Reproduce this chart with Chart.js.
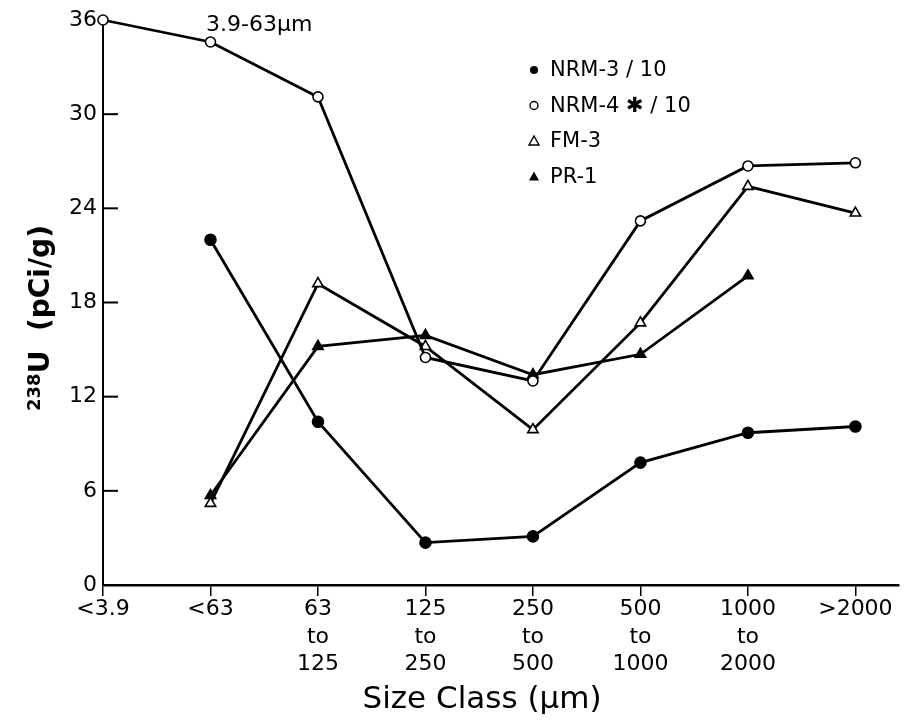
<!DOCTYPE html>
<html>
<head>
<meta charset="utf-8">
<script src="https://cdn.jsdelivr.net/npm/chart.js@4/dist/chart.umd.min.js"></script>
<style>
  html, body { margin: 0; padding: 0; background: #fff; }
  #wrap { width: 906px; height: 723px; }
</style>
</head>
<body>
<div id="wrap"><canvas id="uChart" width="906" height="723"></canvas></div>
<script>
// size classes along the bottom, one line of text per row
const sizeClasses = ['<3.9', '<63', '63 to 125', '125 to 250', '250 to 500', '500 to 1000', '1000 to 2000', '>2000'];
const tickLabels = [['<3.9'], ['<63'], ['63', 'to', '125'], ['125', 'to', '250'], ['250', 'to', '500'],
  ['500', 'to', '1000'], ['1000', 'to', '2000'], ['>2000']];
const yTicks = [0, 6, 12, 18, 24, 30, 36];

// 238U, pCi/g
const nrm3 = [null, 22.0, 10.4, 2.7, 3.1, 7.8, 9.7, 10.1];
const nrm4 = [36.0, 34.6, 31.1, 14.5, 13.0, 23.2, 26.7, 26.9];
const fm3 = [null, 5.2, 19.2, 15.2, 9.9, 16.7, 25.4, 23.7];
const pr1 = [null, 5.7, 15.2, 15.9, 13.4, 14.7, 19.7, null];

const FONT = '"DejaVu Sans", sans-serif';

const toPts = arr => arr.map((v, i) => ({ x: i, y: v }));

const series = (label, arr, style, filled, r) => ({
  label,
  data: toPts(arr),
  borderColor: '#000',
  borderWidth: 2.8,
  pointStyle: style,
  pointRadius: r,
  pointBorderWidth: 1.6,
  pointBorderColor: '#000',
  pointBackgroundColor: filled ? '#000' : '#fff',
  spanGaps: false,
  fill: false,
  tension: 0
});

// legend, titles, inward y ticks
const extras = {
  id: 'extras',
  afterDraw(chart) {
    const { ctx, scales } = chart;
    const y = scales.y;
    const left = chart.chartArea.left;
    ctx.save();
    ctx.strokeStyle = '#000';
    ctx.lineWidth = 2;
    yTicks.forEach(v => {
      if (v === 0 || v === 36) return;
      const py = y.getPixelForValue(v);
      ctx.beginPath();
      ctx.moveTo(left, py);
      ctx.lineTo(left + 15, py);
      ctx.stroke();
    });

    // legend
    const items = [
      ['NRM-3 / 10', 'circle', true],
      ['NRM-4 \u2731 / 10', 'circle', false],
      ['FM-3', 'triangle', false],
      ['PR-1', 'triangle', true]
    ];
    ctx.font = '21px ' + FONT;
    ctx.textBaseline = 'middle';
    ctx.fillStyle = '#000';
    items.forEach(([txt, st, filled], i) => {
      const cy = 70 + i * 35.5;
      const cx = 534;
      ctx.beginPath();
      if (st === 'circle') {
        ctx.arc(cx, cy, 4, 0, Math.PI * 2);
      } else {
        ctx.moveTo(cx, cy - 5);
        ctx.lineTo(cx + 5, cy + 4);
        ctx.lineTo(cx - 5, cy + 4);
        ctx.closePath();
      }
      ctx.lineWidth = 1.4;
      if (filled) ctx.fill(); else ctx.stroke();
      ctx.fillText(txt, 550, cy + 1);
    });

    // note beside the first points
    ctx.font = '22px ' + FONT;
    ctx.textBaseline = 'alphabetic';
    ctx.fillText('3.9-63\u03bcm', 206, 31);

    // x title
    ctx.font = '31px ' + FONT;
    ctx.textAlign = 'center';
    ctx.fillText('Size Class (\u03bcm)', 482, 708);

    // y title, rotated
    ctx.translate(42, 318);
    ctx.rotate(-Math.PI / 2);
    ctx.textAlign = 'left';
    ctx.textBaseline = 'middle';
    const big = 'bold 28px ' + FONT;
    const small = 'bold 18px ' + FONT;
    ctx.font = small;
    const w1 = ctx.measureText('238').width;
    ctx.font = big;
    const w2 = ctx.measureText('U  (pCi/g)').width;
    let x0 = -(w1 + w2) / 2;
    ctx.font = small;
    ctx.fillText('238', x0, -7);
    ctx.font = big;
    ctx.fillText('U  (pCi/g)', x0 + w1, 0);
    ctx.restore();
  }
};

new Chart(document.getElementById('uChart'), {
  type: 'line',
  data: {
    datasets: [
      series('NRM-3/10', nrm3, 'circle', true, 5.5),
      series('NRM-4*/10', nrm4, 'circle', false, 5),
      series('FM-3', fm3, 'triangle', false, 6),
      series('PR-1', pr1, 'triangle', true, 6)
    ]
  },
  options: {
    responsive: false,
    animation: false,
    devicePixelRatio: 1,
    layout: { padding: { top: 20, right: 5, left: 0, bottom: 0 } },
    plugins: { legend: { display: false }, tooltip: { enabled: false } },
    elements: { point: { hitRadius: 0 } },
    clip: false,
    scales: {
      x: {
        type: 'linear',
        min: 0,
        max: 7.4,
        afterBuildTicks: s => { s.ticks = tickLabels.map((_, i) => ({ value: i })); },
        afterFit: s => { s.height = 138; },
        border: { display: true, color: '#000', width: 2.5 },
        grid: { display: true, drawOnChartArea: false, drawTicks: true, tickLength: 11, color: '#000', lineWidth: 1.5 },
        ticks: {
          autoSkip: false,
          maxRotation: 0,
          padding: 0,
          color: '#000',
          font: { family: FONT, size: 22, lineHeight: 1.25 },
          callback: v => tickLabels[v] || ''
        }
      },
      y: {
        min: 0,
        max: 36,
        afterBuildTicks: s => { s.ticks = yTicks.map(v => ({ value: v })); },
        afterFit: s => { s.width = 103; },
        border: { display: true, color: '#000', width: 2 },
        grid: { display: false, drawTicks: false },
        ticks: {
          padding: 6,
          color: '#000',
          font: { family: FONT, size: 22 }
        }
      }
    }
  },
  plugins: [extras]
});
</script>
</body>
</html>
